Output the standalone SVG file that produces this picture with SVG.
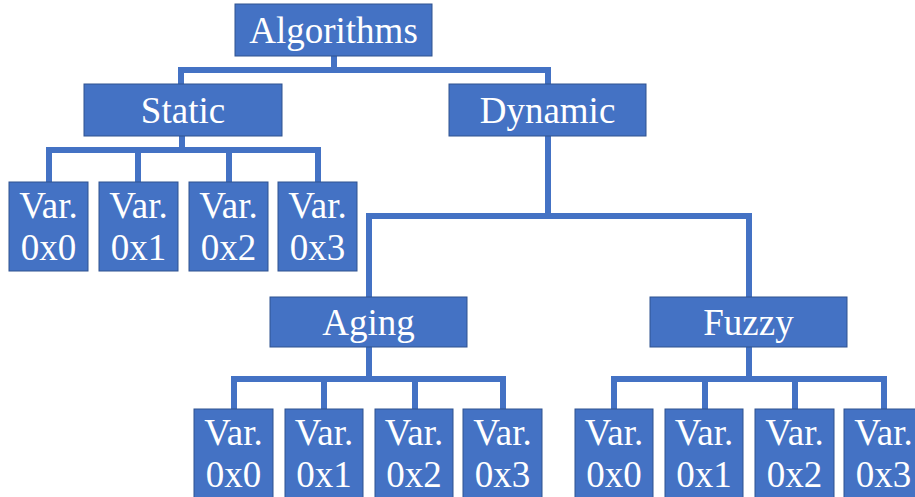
<svg xmlns="http://www.w3.org/2000/svg" width="915" height="497" viewBox="0 0 915 497">
<style>
.box{fill:#4472C4;stroke:#2F528F;stroke-width:1}
.t{fill:#ffffff;font-family:"Liberation Serif","Times New Roman",serif;font-size:37px;text-anchor:middle}
.c{fill:none;stroke:#4472C4;stroke-width:6;stroke-linejoin:miter}
</style>
<rect width="915" height="497" fill="#ffffff"/>
<g id="connectors">
<path class="c" d="M334 56V70M181 84V70H548V84"/>
<path class="c" d="M182 136V150M49 182V150H318V182M138 150V182M229 150V182"/>
<path class="c" d="M548 136V216M369 297V216H749V297"/>
<path class="c" d="M369 347V379M234 409V379H503V409M324 379V409M415 379V409"/>
<path class="c" d="M749 347V379M614 409V379H884V409M705 379V409M795 379V409"/>
</g>
<g id="algorithms"><rect class="box" x="235" y="4" width="197" height="52"/><text class="t" x="333.5" y="43">Algorithms</text></g>
<g id="static"><rect class="box" x="84" y="84" width="198" height="52"/><text class="t" x="183" y="123">Static</text></g>
<g id="dynamic"><rect class="box" x="449" y="84" width="197" height="52"/><text class="t" x="547.5" y="123">Dynamic</text></g>
<g id="aging"><rect class="box" x="270" y="297" width="197" height="50"/><text class="t" x="368.5" y="335">Aging</text></g>
<g id="fuzzy"><rect class="box" x="650" y="297" width="197" height="50"/><text class="t" x="748.5" y="335">Fuzzy</text></g>
<g id="s0"><rect class="box" x="9" y="182" width="79" height="89"/><text class="t" x="48.5" y="218">Var.</text><text class="t" x="48.5" y="260">0x0</text></g>
<g id="s1"><rect class="box" x="99" y="182" width="79" height="89"/><text class="t" x="138.5" y="218">Var.</text><text class="t" x="138.5" y="260">0x1</text></g>
<g id="s2"><rect class="box" x="189" y="182" width="79" height="89"/><text class="t" x="228.5" y="218">Var.</text><text class="t" x="228.5" y="260">0x2</text></g>
<g id="s3"><rect class="box" x="278" y="182" width="79" height="89"/><text class="t" x="317.5" y="218">Var.</text><text class="t" x="317.5" y="260">0x3</text></g>
<g id="a0"><rect class="box" x="194" y="409" width="79" height="89"/><text class="t" x="233.5" y="445">Var.</text><text class="t" x="233.5" y="487">0x0</text></g>
<g id="a1"><rect class="box" x="285" y="409" width="78" height="89"/><text class="t" x="324" y="445">Var.</text><text class="t" x="324" y="487">0x1</text></g>
<g id="a2"><rect class="box" x="375" y="409" width="78" height="89"/><text class="t" x="414" y="445">Var.</text><text class="t" x="414" y="487">0x2</text></g>
<g id="a3"><rect class="box" x="463" y="409" width="79" height="89"/><text class="t" x="502.5" y="445">Var.</text><text class="t" x="502.5" y="487">0x3</text></g>
<g id="f0"><rect class="box" x="575" y="409" width="78" height="89"/><text class="t" x="614" y="445">Var.</text><text class="t" x="614" y="487">0x0</text></g>
<g id="f1"><rect class="box" x="665" y="409" width="78" height="89"/><text class="t" x="704" y="445">Var.</text><text class="t" x="704" y="487">0x1</text></g>
<g id="f2"><rect class="box" x="755" y="409" width="79" height="89"/><text class="t" x="794.5" y="445">Var.</text><text class="t" x="794.5" y="487">0x2</text></g>
<g id="f3"><rect class="box" x="844" y="409" width="79" height="89"/><text class="t" x="883.5" y="445">Var.</text><text class="t" x="883.5" y="487">0x3</text></g>
</svg>
